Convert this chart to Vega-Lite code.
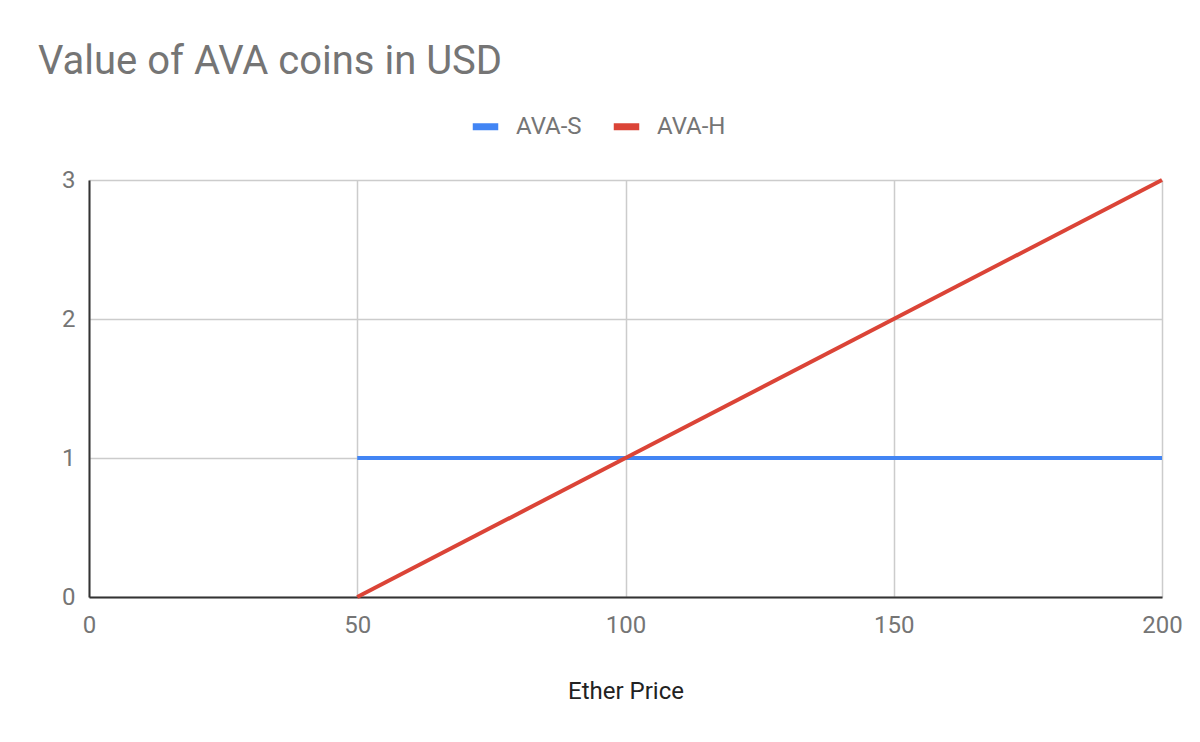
{
  "$schema": "https://vega.github.io/schema/vega-lite/v6.json",
  "width": 1073,
  "height": 417,
  "autosize": "none",
  "padding": {"left": 89, "top": 180, "right": 38, "bottom": 145},
  "background": "white",
  "title": {
    "text": "Value of AVA coins in USD",
    "anchor": "start",
    "frame": "group",
    "dx": -51,
    "offset": 28,
    "font": "Roboto",
    "fontSize": 40,
    "fontWeight": "normal",
    "color": "#757575"
  },
  "data": {
    "values": [
      {"price": 50, "series": "AVA-S", "value": 1},
      {"price": 100, "series": "AVA-S", "value": 1},
      {"price": 150, "series": "AVA-S", "value": 1},
      {"price": 200, "series": "AVA-S", "value": 1},
      {"price": 50, "series": "AVA-H", "value": 0},
      {"price": 100, "series": "AVA-H", "value": 1},
      {"price": 150, "series": "AVA-H", "value": 2},
      {"price": 200, "series": "AVA-H", "value": 3}
    ]
  },
  "mark": {"type": "line", "strokeWidth": 4},
  "encoding": {
    "x": {
      "field": "price",
      "type": "quantitative",
      "title": "Ether Price",
      "scale": {"domain": [0, 200], "nice": false},
      "axis": {
        "values": [0, 50, 100, 150, 200],
        "grid": true,
        "gridColor": "#cccccc",
        "gridWidth": 1.5,
        "domainColor": "#333333",
        "domainWidth": 2,
        "ticks": false,
        "labelFont": "Roboto",
        "labelFontSize": 24,
        "labelColor": "#757575",
        "labelPadding": 16,
        "labelFlush": false,
        "titleFont": "Roboto",
        "titleFontSize": 24,
        "titleFontWeight": "normal",
        "titleColor": "#222222",
        "titlePadding": 42
      }
    },
    "y": {
      "field": "value",
      "type": "quantitative",
      "title": null,
      "scale": {"domain": [0, 3], "nice": false},
      "axis": {
        "values": [0, 1, 2, 3],
        "grid": true,
        "gridColor": "#cccccc",
        "gridWidth": 1.5,
        "domainColor": "#333333",
        "domainWidth": 2,
        "ticks": false,
        "labelFont": "Roboto",
        "labelFontSize": 24,
        "labelColor": "#757575",
        "labelPadding": 14
      }
    },
    "color": {
      "field": "series",
      "type": "nominal",
      "scale": {"domain": ["AVA-S", "AVA-H"], "range": ["#4285F4", "#DB4437"]},
      "legend": {
        "title": null,
        "orient": "none",
        "direction": "horizontal",
        "legendX": 380,
        "legendY": -70,
        "symbolType": "stroke",
        "symbolStrokeWidth": 7,
        "symbolSize": 650,
        "labelFont": "Roboto",
        "labelFontSize": 24,
        "labelColor": "#757575",
        "labelOffset": 14,
        "columnPadding": 17
      }
    }
  },
  "config": {"view": {"stroke": null}}
}
